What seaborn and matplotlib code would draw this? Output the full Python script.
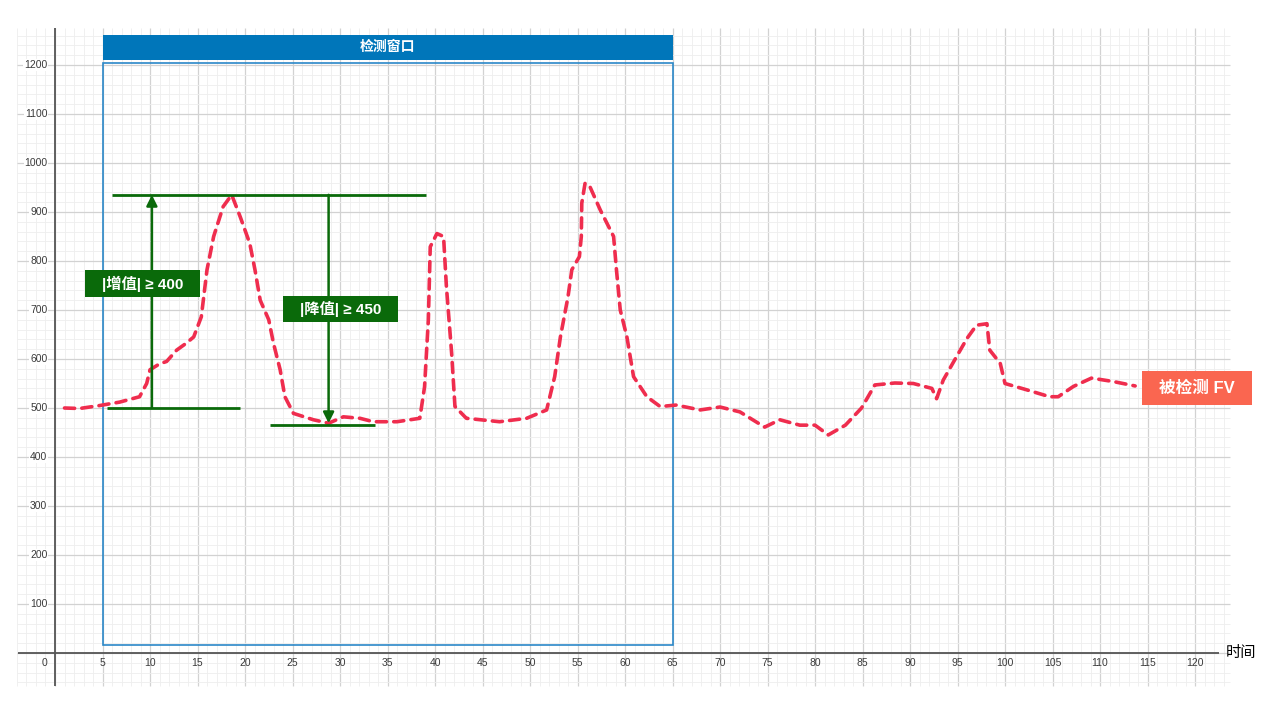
import matplotlib
matplotlib.use("Agg")
import matplotlib.pyplot as plt
import seaborn as sns
from matplotlib.patches import Rectangle

# 被检测 FV 曲线（从图上读出的点）
t = [1.0, 2.6, 4.7, 6.8, 8.9, 9.65, 10.0, 11.0, 11.75, 12.8, 13.8, 14.6, 15.4, 16.0,
     16.7, 17.7, 18.6, 19.5, 20.5, 21.05, 21.6, 22.5, 23.0, 23.7, 24.2, 25.1, 27.2,
     28.8, 30.35, 32.1, 33.5, 36.0, 38.4, 38.9, 39.3, 39.5, 40.2, 40.9, 41.2, 41.75,
     42.1, 43.3, 46.8, 49.65, 51.75, 52.6, 53.2, 54.0, 54.4, 55.2, 55.4, 55.45, 55.8,
     56.3, 57.4, 58.8, 59.1, 59.5, 60.2, 60.9, 62.3, 63.7, 65.4, 67.9, 70.0, 72.1,
     74.7, 76.3, 78.4, 80.0, 81.4, 83.2, 84.9, 86.3, 88.4, 90.35, 92.3, 92.8, 93.5,
     94.7, 96.0, 97.0, 98.1, 98.4, 99.5, 100.0, 102.3, 104.7, 105.6, 107.2, 109.1,
     111.4, 113.7]
fv = [500, 499, 505, 512, 523, 550, 578, 590, 595, 618, 632, 645, 686, 782,
      850, 911, 935, 890, 836, 782, 720, 680, 632, 578, 523, 489, 476,
      469, 482, 479, 472, 472, 479, 543, 680, 829, 856, 850, 748, 612,
      503, 479, 472, 479, 496, 564, 645, 727, 782, 809, 850, 918, 959,
      952, 904, 850, 782, 700, 645, 564, 523, 503, 506, 496, 502, 492,
      461, 476, 465, 465, 445, 465, 500, 547, 551, 550, 540, 519, 557,
      598, 642, 669, 672, 618, 591, 550, 537, 523, 523, 544, 561,
      554, 545]

x_ticks = list(range(0, 121, 5))
y_ticks = list(range(100, 1201, 100))

window = (5, 65)          # 检测窗口
rise_levels = (500, 935)  # |增值| ≥ 400
fall_levels = (935, 469)  # |降值| ≥ 450

sns.set_style("white")
plt.rcParams['font.family'] = ['Liberation Sans', 'Noto Sans CJK SC', 'DejaVu Sans']

fig = plt.figure(figsize=(12.67, 7.13), dpi=100)
ax = fig.add_axes([0, 0, 1, 1])

# 网格
gx0, gx1, gy0, gy1 = -4, 123.7, -68, 1275
for xv in range(-4, 124):
    major = xv % 5 == 0
    ax.vlines(xv, gy0, gy1, color='#d2d2d2' if major else '#eeeeee',
              lw=0.9 if major else 0.6, zorder=0)
for yv in range(-60, 1280, 20):
    major = yv % 100 == 0
    ax.hlines(yv, gx0, gx1, color='#d2d2d2' if major else '#eeeeee',
              lw=0.9 if major else 0.6, zorder=0)

# 坐标轴
ax.hlines(0, -3.9, 122.5, color='#555555', lw=1.3, zorder=2)
ax.vlines(0, -68, 1275, color='#555555', lw=1.3, zorder=2)
for v in y_ticks:
    ax.text(-0.8, v, str(v), ha='right', va='center', fontsize=7.5, color='#3a3a3a',
            zorder=2, bbox=dict(facecolor='white', edgecolor='none', pad=0.5))
for v in x_ticks:
    ax.text(v - 1.1 if v == 0 else v, -20, str(v), ha='center', va='center',
            fontsize=7.5, color='#3a3a3a', zorder=2)
ax.text(123.2, 0, '时间', ha='left', va='center', fontsize=11, fontweight='medium',
        color='black', zorder=2)

# 检测窗口
ax.add_patch(Rectangle((window[0], 16), window[1] - window[0], 1188, fill=False,
                       edgecolor='#2b88c8', lw=1.2, zorder=1))
ax.add_patch(Rectangle((window[0], 1210), window[1] - window[0], 52,
                       facecolor='#0076ba', edgecolor='none', zorder=1))
ax.text(sum(window) / 2, 1236, '检测窗口', ha='center', va='center', fontsize=10,
        fontweight='bold', color='white', zorder=2)

# 曲线
sns.lineplot(x=t, y=fv, sort=False, estimator=None, color='#ef2d4e', lw=2.6,
             linestyle=(0, (2.8, 2.0)), ax=ax, zorder=3)
ax.lines[-1].set_dash_capstyle('round')

# 标注
green = '#0a6a0a'
ax.hlines(rise_levels[1], 6.0, 39.0, color=green, lw=2, zorder=4)
ax.hlines(rise_levels[0], 5.5, 19.5, color=green, lw=2, zorder=4)
ax.hlines(465, 22.6, 33.7, color=green, lw=2, zorder=4)
ax.annotate('', xy=(10.2, rise_levels[1]), xytext=(10.2, rise_levels[0]),
            arrowprops=dict(arrowstyle='-|>', color=green, lw=1.8, mutation_scale=16,
                            shrinkA=0, shrinkB=0), zorder=4)
ax.annotate('', xy=(28.8, fall_levels[1]), xytext=(28.8, fall_levels[0]),
            arrowprops=dict(arrowstyle='-|>', color=green, lw=1.8, mutation_scale=16,
                            shrinkA=0, shrinkB=0), zorder=4)
ax.add_patch(Rectangle((3.16, 726.5), 12.1, 55.1, facecolor=green, edgecolor='none', zorder=5))
ax.text(9.2, 754, '|增值| ≥ 400', ha='center', va='center', fontsize=11,
        fontweight='bold', color='white', zorder=6)
ax.add_patch(Rectangle((24.0, 675.5), 12.1, 53.1, facecolor=green, edgecolor='none', zorder=5))
ax.text(30.05, 702, '|降值| ≥ 450', ha='center', va='center', fontsize=11,
        fontweight='bold', color='white', zorder=6)

ax.add_patch(Rectangle((114.4, 506), 11.6, 70, facecolor='#fa6650', edgecolor='none', zorder=5))
ax.text(120.2, 541, '被检测 FV', ha='center', va='center', fontsize=12,
        fontweight='bold', color='white', zorder=6)

ax.set_xlim(-55 / 9.5, (1267 - 55) / 9.5)
ax.set_ylim(-(713 - 653) / 0.49, 653 / 0.49)
ax.axis('off')

fig.savefig('out.png', dpi=100)
